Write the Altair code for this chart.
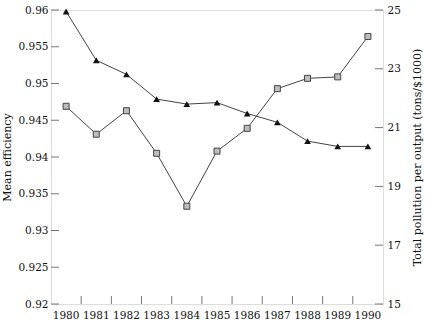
import altair as alt
import pandas as pd

years = [1980, 1981, 1982, 1983, 1984, 1985, 1986, 1987, 1988, 1989, 1990]
mean_efficiency = [0.9469, 0.9431, 0.9463, 0.9405, 0.9333, 0.9408, 0.9439, 0.9493, 0.9507, 0.9509, 0.9564]
pollution = [24.95, 23.29, 22.81, 21.97, 21.80, 21.85, 21.48, 21.18, 20.54, 20.36, 20.36]
eff_ticks = [0.92, 0.925, 0.93, 0.935, 0.94, 0.945, 0.95, 0.955, 0.96]
poll_ticks = [15, 17, 19, 21, 23, 25]

df = pd.DataFrame({"year": years, "eff": mean_efficiency, "poll": pollution})
df_xt = pd.DataFrame({"year": years[1:]})
df_et = pd.DataFrame({"eff": eff_ticks})
df_pt = pd.DataFrame({"poll": poll_ticks})

FONT = "DejaVu Serif"
LINE = "#444444"
TICK = "#777777"
TXT = "#111111"
W, H, TL = 332, 294, 8

x_scale = alt.Scale(type="band", paddingInner=0, paddingOuter=0)
x_axis = alt.Axis(
    title=None, orient="bottom", ticks=False, domain=False, labelAngle=0,
    labelPadding=6, labelFont=FONT, labelFontSize=10.5, labelColor=TXT,
)
x_enc = alt.X("year:O", scale=x_scale, axis=x_axis)

eff_scale = alt.Scale(domain=[0.92, 0.96], nice=False, zero=False)
y_eff = alt.Y(
    "eff:Q",
    scale=eff_scale,
    axis=alt.Axis(
        title="Mean efficiency", orient="left", ticks=False, domain=False,
        grid=False, values=eff_ticks, format=".3~f",
        labelPadding=3, labelFont=FONT, labelFontSize=10.5, labelColor=TXT,
        titleFont=FONT, titleFontSize=11, titleFontWeight="normal", titleColor=TXT,
        titlePadding=5,
    ),
)

poll_scale = alt.Scale(domain=[15, 25], nice=False, zero=False)
y_poll = alt.Y(
    "poll:Q",
    scale=poll_scale,
    axis=alt.Axis(
        title="Total pollution per output (tons/$1000)", orient="right",
        ticks=False, domain=False, grid=False, values=poll_ticks,
        labelPadding=4, titleAngle=270,
        labelFont=FONT, labelFontSize=10.5, labelColor=TXT,
        titleFont=FONT, titleFontSize=11, titleFontWeight="normal", titleColor=TXT,
        titlePadding=22,
    ),
)

base = alt.Chart(df)

x_ticks = alt.Chart(df_xt).mark_rule(color=TICK, strokeWidth=1).encode(
    x=alt.X("year:O", scale=x_scale, bandPosition=0, axis=x_axis),
    y=alt.value(H - TL), y2=alt.value(H),
)

eff_layer = alt.layer(
    base.mark_line(color=LINE, strokeWidth=1).encode(x=x_enc, y=y_eff),
    base.mark_point(shape="square", filled=True, fill="#bdbdbd", stroke=LINE,
                    strokeWidth=1, opacity=1, size=36).encode(x=x_enc, y=y_eff),
    alt.Chart(df_et).mark_rule(color=TICK, strokeWidth=1).encode(
        y=y_eff, x=alt.value(0), x2=alt.value(TL),
    ),
)

poll_layer = alt.layer(
    base.mark_line(color=LINE, strokeWidth=1).encode(x=x_enc, y=y_poll),
    base.mark_point(shape="triangle-up", filled=True, color="#111111",
                    opacity=1, size=45).encode(x=x_enc, y=y_poll),
    alt.Chart(df_pt).mark_rule(color=TICK, strokeWidth=1).encode(
        y=y_poll, x=alt.value(W - TL), x2=alt.value(W),
    ),
)

chart = (
    alt.layer(eff_layer, poll_layer, x_ticks)
    .resolve_scale(y="independent")
    .properties(
        width=W, height=H,
        autosize=alt.AutoSizeParams(type="none"),
        padding={"left": 51, "top": 10, "right": 42, "bottom": 17},
    )
    .configure_view(stroke=LINE, strokeWidth=1)
    .configure(background="white")
)

chart.save("out.html", embed_options={"renderer": "svg", "actions": False})
